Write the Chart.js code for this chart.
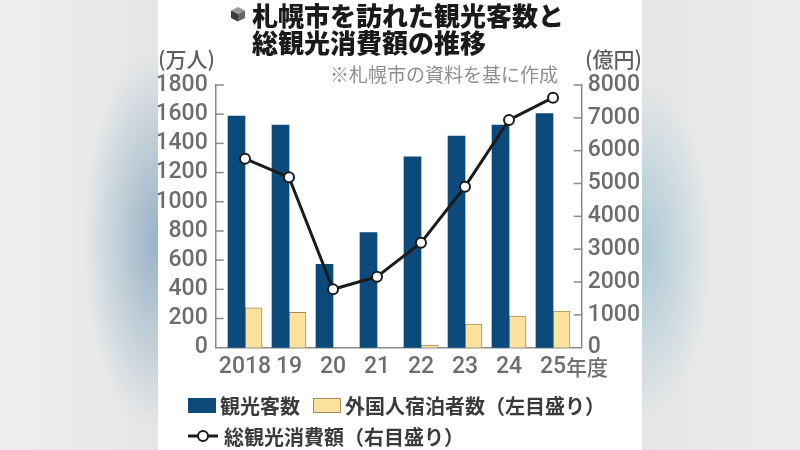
<!DOCTYPE html>
<html lang="ja">
<head>
<meta charset="utf-8">
<script src="https://cdn.jsdelivr.net/npm/chart.js@4.4.1/dist/chart.umd.min.js"></script>
<style>
  html, body { margin: 0; padding: 0; }
  body {
    width: 800px; height: 450px; position: relative; overflow: hidden;
    font-family: "Noto Sans CJK JP", "Noto Sans", sans-serif;
    background:
      radial-gradient(ellipse 75px 190px at 158px 240px, rgba(146,176,197,0.95), rgba(146,176,197,0)),
      radial-gradient(ellipse 70px 170px at 642px 250px, rgba(160,196,210,0.85), rgba(160,196,210,0)),
      linear-gradient(90deg, #eeeeee 0, #e6e6e6 158px, #e6e6e6 642px, #ececec 800px);
  }
  #panel { position: absolute; left: 158px; top: 0; width: 484px; height: 450px; background: #fff; }
  #c { position: absolute; left: 0; top: 0; }
  #title {
    position: absolute; left: 252px; top: 1px;
    font-size: 26px; line-height: 27px; font-weight: 900; color: #1a1a1a; white-space: nowrap;
  }
  #cube { position: absolute; left: 230px; top: 6px; }
  .unit { position: absolute; top: 43px; font-size: 21px; color: #5e5e5e; font-weight: 500; }
  #note { position: absolute; left: 330px; top: 60px; font-size: 19px; color: #8e8e8e; white-space: nowrap; }
  .lrow { position: absolute; left: 188px; height: 28px; display: flex; align-items: center; white-space: nowrap; }
  .lbox { width: 28px; height: 15px; box-sizing: border-box; margin-right: 4px; }
  .ltxt { font-size: 20px; font-weight: 700; color: #3a3a3a; margin-right: 13px; }
</style>
</head>
<body>
<div id="panel"></div>
<canvas id="c" width="800" height="450"></canvas>
<svg id="cube" width="16" height="16" viewBox="0 0 16 16">
  <polygon points="8,1 15,4.5 8,8 1,4.5" fill="#9a9a9a"/>
  <polygon points="1,4.5 8,8 8,15.5 1,12" fill="#3a3a3a"/>
  <polygon points="15,4.5 8,8 8,15.5 15,12" fill="#666"/>
</svg>
<div id="title">札幌市を訪れた観光客数と<br>総観光消費額の推移</div>
<div class="unit" style="left:158px">(万人)</div>
<div class="unit" style="right:158px">(億円)</div>
<div id="note">※札幌市の資料を基に作成</div>
<div class="lrow" id="row1" style="top:391px"></div>
<div class="lrow" id="row2" style="top:422px"></div>
<script>
const years = ['2018', '19', '20', '21', '22', '23', '24', '25'];
const visitors = [1587, 1525, 571, 788, 1308, 1450, 1525, 1605];      // 観光客数 (万人)
const foreignStays = [274, 242, 0, 0, 18, 162, 217, 251];             // 外国人宿泊者数 (万人)
const spending = [5755, 5190, 1778, 2162, 3197, 4903, 6934, 7613];    // 総観光消費額 (億円)
const leftMax = 1800, leftStep = 200;
const rightMax = 8000, rightStep = 1000;

const tickFont = { family: 'Roboto, sans-serif', size: 23, weight: '500' };
const tickColor = '#6d6d6d';
const axisColor = '#8a8a8a';

const pts = arr => arr.map((v, i) => ({ x: i, y: v }));

const insideTicks = {
  id: 'insideTicks',
  afterDraw(chart) {
    const { ctx, chartArea } = chart;
    ctx.save();
    ctx.strokeStyle = axisColor;
    ctx.lineWidth = 1.5;
    ['y', 'y1'].forEach(id => {
      const s = chart.scales[id];
      const x0 = id === 'y' ? chartArea.left : chartArea.right;
      const dir = id === 'y' ? 1 : -1;
      s.ticks.forEach(t => {
        if (t.value === 0) return;
        const py = s.getPixelForValue(t.value);
        ctx.beginPath();
        ctx.moveTo(x0, py);
        ctx.lineTo(x0 + dir * 8, py);
        ctx.stroke();
      });
    });
    // 年度 after the last year label
    const xs = chart.scales.x;
    const last = years.length - 1;
    ctx.font = tickFont.weight + ' ' + tickFont.size + 'px ' + tickFont.family;
    const w = ctx.measureText(years[last]).width;
    ctx.font = '500 21px "Noto Sans CJK JP"';
    ctx.fillStyle = tickColor;
    ctx.textAlign = 'left';
    ctx.textBaseline = 'middle';
    ctx.fillText('年度', xs.getPixelForValue(last) + w / 2, xs.top + 19);
    ctx.restore();
  }
};

const chart = new Chart(document.getElementById('c'), {
  type: 'bar',
  data: {
    datasets: [
      {
        type: 'line',
        label: '総観光消費額（右目盛り）',
        data: pts(spending),
        yAxisID: 'y1',
        order: 0,
        borderColor: '#1b1b1b',
        borderWidth: 3,
        pointRadius: 5,
        pointBorderWidth: 2,
        pointBackgroundColor: '#fff',
        pointBorderColor: '#1b1b1b',
        tension: 0
      },
      {
        label: '観光客数',
        data: pts(visitors),
        yAxisID: 'y',
        order: 1,
        backgroundColor: '#0b4a7b',
        borderWidth: 0,
        barThickness: 17
      },
      {
        label: '外国人宿泊者数（左目盛り）',
        data: pts(foreignStays),
        yAxisID: 'y',
        order: 1,
        backgroundColor: '#fde29d',
        borderColor: '#a38d5e',
        borderWidth: 1,
        barThickness: 17
      }
    ]
  },
  options: {
    responsive: false,
    animation: false,
    layout: { padding: { left: 158, right: 158, top: 85, bottom: 72.3 } },
    plugins: { legend: { display: false }, tooltip: { enabled: false } },
    scales: {
      x: {
        type: 'linear',
        offset: false,
        min: -0.666,
        max: 7.652,
        grid: { display: false, drawTicks: false, offset: false },
        border: { color: axisColor, width: 1.5 },
        afterBuildTicks: s => { s.ticks = years.map((_, i) => ({ value: i })); },
        afterFit: s => { s.height = 30; },
        ticks: {
          callback: v => years[v],
          font: tickFont, color: tickColor, padding: 6,
          maxRotation: 0, autoSkip: false
        }
      },
      y: {
        position: 'left',
        min: 0, max: leftMax,
        grid: { display: false, drawTicks: false },
        border: { color: axisColor, width: 1.5 },
        afterFit: s => { s.width = 57.7; },
        ticks: { stepSize: leftStep, autoSkip: false, callback: v => String(v), font: tickFont, color: tickColor, padding: 8 }
      },
      y1: {
        position: 'right',
        min: 0, max: rightMax,
        grid: { display: false, drawTicks: false },
        border: { color: axisColor, width: 1.5 },
        afterFit: s => { s.width = 60.3; },
        ticks: { stepSize: rightStep, autoSkip: false, callback: v => String(v), font: tickFont, color: tickColor, padding: 6 }
      }
    }
  },
  plugins: [insideTicks]
});

// legend built from the datasets
function legendItem(ds, marker) {
  return marker + '<span class="ltxt">' + ds.label + '</span>';
}
const [lineDs, visDs, forDs] = chart.data.datasets;
const boxHtml = ds => '<span class="lbox" style="background:' + ds.backgroundColor +
  ';border:' + (ds.borderWidth ? ds.borderWidth + 'px solid ' + ds.borderColor : 'none') + '"></span>';
const lineMarker = '<svg width="30" height="16" style="margin-right:6px">' +
  '<line x1="0" y1="8" x2="30" y2="8" stroke="' + lineDs.borderColor + '" stroke-width="3"/>' +
  '<circle cx="15" cy="8" r="5" fill="#fff" stroke="' + lineDs.borderColor + '" stroke-width="2"/></svg>';
document.getElementById('row1').innerHTML = legendItem(visDs, boxHtml(visDs)) + legendItem(forDs, boxHtml(forDs));
document.getElementById('row2').innerHTML = legendItem(lineDs, lineMarker);
</script>
</body>
</html>
